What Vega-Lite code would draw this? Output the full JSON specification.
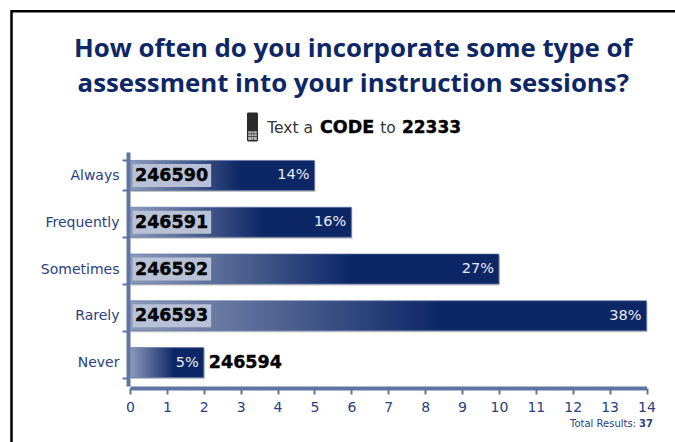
{
"$schema":"https://vega.github.io/schema/vega-lite/v6.json",
"width":516.5,"height":234,
"autosize":{"type":"none"},
"padding":{"left":130,"top":152,"right":28.5,"bottom":56},
"background":"white",
"title":{"text":["How often do you incorporate some type of","assessment into your instruction sessions?"],"frame":"group","font":"Open Sans","fontSize":25.8,"fontWeight":"bold","color":"#0d2766","anchor":"middle","dx":-35,"lineHeight":35,"offset":-109,"baseline":"alphabetic"},
"config":{"view":{"stroke":null}},
"data":{"values":[
{"response":"Always","count":5,"pct":"14%","code":"246590"},
{"response":"Frequently","count":6,"pct":"16%","code":"246591"},
{"response":"Sometimes","count":10,"pct":"27%","code":"246592"},
{"response":"Rarely","count":14,"pct":"38%","code":"246593"},
{"response":"Never","count":2,"pct":"5%","code":"246594"}]},
"encoding":{"y":{"field":"response","type":"nominal","sort":null,"scale":{"domain":["Always","Frequently","Sometimes","Rarely","Never"],"paddingInner":0.36,"paddingOuter":0.18},
"axis":{"title":null,"domainColor":"#5f74a5","domainWidth":4,"offset":2,"tickBand":"extent","tickColor":"#5f74a5","tickWidth":2,"tickSize":6,"labelFont":"DejaVu Sans","labelFontSize":14,"labelColor":"#2a4080","labelPadding":3}}},
"layer":[
{"mark":{"type":"bar","color":"#c4c4c4","xOffset":1,"yOffset":1.5},"encoding":{"x":{"field":"count","type":"quantitative","scale":{"domain":[0,14],"nice":false},"axis":{"title":null,"values":[0,1,2,3,4,5,6,7,8,9,10,11,12,13,14],"tickCount":15,"labelOverlap":false,"grid":false,"domainColor":"#5f74a5","domainWidth":4,"offset":2,"tickColor":"#5f74a5","tickWidth":2,"tickSize":6,"labelFont":"DejaVu Sans","labelFontSize":14,"labelColor":"#2a4080","labelPadding":6,"labelFlush":false}}}},
{"mark":{"type":"bar","stroke":"#5f74a5","strokeWidth":0.7,"color":{"gradient":"linear","x1":0,"y1":0,"x2":1,"y2":0,"stops":[{"offset":0,"color":"#8d9abb"},{"offset":0.6,"color":"#0d2766"},{"offset":1,"color":"#0d2766"}]}},"encoding":{"x":{"field":"count","type":"quantitative"}}},
{"transform":[{"filter":"datum.count>2"}],"mark":{"type":"bar","color":"#b9c1d6","size":23},"encoding":{"x":{"datum":0.07},"x2":{"datum":2.2}}},
{"transform":[{"filter":"datum.count>2"}],"mark":{"type":"text","font":"DejaVu Sans","fontWeight":"bold","fontSize":17.5,"color":"black","stroke":"black","strokeWidth":0.4,"align":"left","dx":5,"dy":0.5},"encoding":{"x":{"datum":0},"text":{"field":"code"}}},
{"transform":[{"filter":"datum.count<=2"}],"mark":{"type":"text","font":"DejaVu Sans","fontWeight":"bold","fontSize":17.5,"color":"black","stroke":"black","strokeWidth":0.4,"align":"left","dx":5,"dy":0.5},"encoding":{"x":{"field":"count","type":"quantitative"},"text":{"field":"code"}}},
{"mark":{"type":"text","font":"DejaVu Sans","fontSize":14.5,"color":"#e8ebf3","align":"right","dx":-5},"encoding":{"x":{"field":"count","type":"quantitative"},"text":{"field":"pct"}}},
{"data":{"values":[{"t":"Text a"}]},"mark":{"type":"text","font":"DejaVu Sans","fontSize":15.5,"color":"#333333","align":"left","dy":-47},"encoding":{"x":{"datum":3.72},"y":{"datum":"Always"},"text":{"field":"t"}}},
{"data":{"values":[{"t":"CODE"}]},"mark":{"type":"text","font":"DejaVu Sans","fontWeight":"bold","fontSize":17.5,"color":"black","stroke":"black","strokeWidth":0.4,"align":"left","dy":-47},"encoding":{"x":{"datum":5.15},"y":{"datum":"Always"},"text":{"field":"t"}}},
{"data":{"values":[{"t":"to"}]},"mark":{"type":"text","font":"DejaVu Sans","fontSize":15.5,"color":"#333333","align":"left","dy":-47},"encoding":{"x":{"datum":6.78},"y":{"datum":"Always"},"text":{"field":"t"}}},
{"data":{"values":[{"t":"22333"}]},"mark":{"type":"text","font":"DejaVu Sans","fontWeight":"bold","fontSize":17,"color":"black","stroke":"black","strokeWidth":0.4,"align":"left","dy":-47},"encoding":{"x":{"datum":7.37},"y":{"datum":"Always"},"text":{"field":"t"}}},
{"data":{"values":[{"k":"phone"}]},"mark":{"type":"point","filled":true,"opacity":1,"size":841,"color":"#2b2b2b","yOffset":-48.5,"shape":"M-0.33,-1 L0.33,-1 L0.38,-0.9 L0.38,0.9 L0.33,1 L-0.33,1 L-0.38,0.9 L-0.38,-0.9 Z"},"encoding":{"x":{"datum":3.32},"y":{"datum":"Always"}}},
{"data":{"values":[{"k":"keys"}]},"mark":{"type":"point","filled":true,"opacity":1,"size":841,"color":"#b5b5b5","yOffset":-48.5,"shape":"M-0.3,0.3 H-0.1 V0.45 H-0.3 Z M-0.08,0.3 H0.08 V0.45 H-0.08 Z M0.1,0.3 H0.3 V0.45 H0.1 Z M-0.3,0.5 H-0.1 V0.65 H-0.3 Z M-0.08,0.5 H0.08 V0.65 H-0.08 Z M0.1,0.5 H0.3 V0.65 H0.1 Z M-0.3,0.7 H-0.1 V0.9 H-0.3 Z M-0.08,0.7 H0.08 V0.9 H-0.08 Z M0.1,0.7 H0.3 V0.9 H0.1 Z"},"encoding":{"x":{"datum":3.32},"y":{"datum":"Always"}}},
{"data":{"values":[{"t":"Total Results:"}]},"mark":{"type":"text","font":"DejaVu Sans","fontSize":10,"color":"#2a4080","align":"right","dy":61,"dx":-10.5},"encoding":{"x":{"datum":14},"y":{"datum":"Never"},"text":{"field":"t"}}},
{"data":{"values":[{"t":"37"}]},"mark":{"type":"text","font":"DejaVu Sans","fontWeight":"bold","fontSize":10,"color":"#2a4080","align":"right","dy":61,"dx":6.5},"encoding":{"x":{"datum":14},"y":{"datum":"Never"},"text":{"field":"t"}}},
{"data":{"values":[{"k":"frame"}]},"mark":{"type":"rule","color":"black","strokeWidth":2.5},"encoding":{"x":{"value":-118.5},"x2":{"value":545},"y":{"value":-140.7}}},
{"data":{"values":[{"k":"frame"}]},"mark":{"type":"rule","color":"black","strokeWidth":2.5},"encoding":{"x":{"value":-118.5},"y":{"value":-142},"y2":{"value":290}}}
]
}
